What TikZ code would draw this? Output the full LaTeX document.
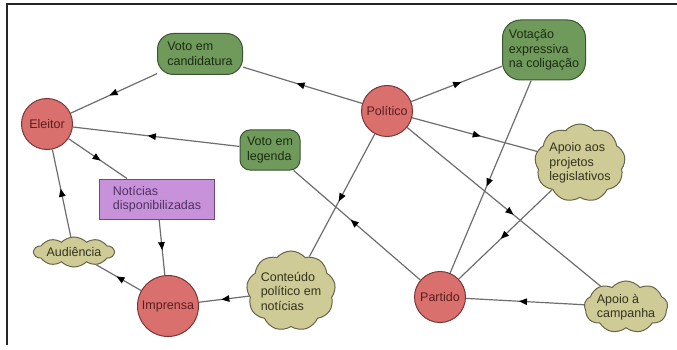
\documentclass[tikz,border=0pt]{standalone}
\usepackage{fontspec}
\setmainfont{Liberation Sans}
\usetikzlibrary{shapes.symbols,decorations.markings,arrows.meta}
\definecolor{redfill}{HTML}{D9706E}
\definecolor{reddraw}{HTML}{7A3535}
\definecolor{redtext}{HTML}{5A1E1E}
\definecolor{greenfill}{HTML}{6F9A5B}
\definecolor{greendraw}{HTML}{3A5530}
\definecolor{greentext}{HTML}{1C2C12}
\definecolor{cloudfill}{HTML}{CFCB96}
\definecolor{clouddraw}{HTML}{66654A}
\definecolor{cloudtext}{HTML}{33331F}
\definecolor{purplefill}{HTML}{C792DA}
\definecolor{purpledraw}{HTML}{6B4A80}
\definecolor{purpletext}{HTML}{4E3264}
\definecolor{linecol}{HTML}{6E6E6E}
\begin{document}
\begin{tikzpicture}[x=1pt,y=-1pt,
  font=\fontsize{12.5}{14.5}\selectfont,
  actor/.style={circle, draw=reddraw, fill=redfill, text=redtext, line width=1pt, inner sep=0pt, minimum size=51pt},
  greenbox/.style={rectangle, draw=greendraw, fill=greenfill, text=greentext, line width=1pt, align=left, inner sep=2pt},
  cloudbox/.style={cloud, cloud puffs=9, cloud puff arc=100, cloud ignores aspect, draw=clouddraw, fill=cloudfill, text=cloudtext, line width=1pt, align=left, inner sep=0pt},
  purplebox/.style={rectangle, draw=purpledraw, fill=purplefill, text=purpletext, line width=1pt, align=left, inner sep=2pt},
  link/.style={draw=linecol, line width=1.2pt, postaction={decorate},
    decoration={markings, mark=at position 0.55 with {\arrow[black]{Triangle[length=8pt,width=6.5pt]}}}}
]
\useasboundingbox (0,0) rectangle (677,350);
\fill[white] (0,0) rectangle (677,350);
\draw[line width=2pt, black!85] (7,345) -- (7,4) -- (677,4);

% nodes
\node[actor] (eleitor) at (47,124) {Eleitor};
\node[actor] (politico) at (387,111) {Político};
\node[actor, minimum size=61pt] (imprensa) at (168,306) {Imprensa};
\node[actor] (partido) at (440,297) {Partido};

\node[greenbox, rounded corners=16pt, minimum width=85pt, minimum height=41pt] (vcand) at (200,54) {Voto em\\candidatura};
\node[greenbox, rounded corners=10pt, minimum width=60pt, minimum height=40pt] (vleg) at (270,150) {Voto em\\legenda};
\node[greenbox, rounded corners=18pt, minimum width=83pt, minimum height=60pt] (votacao) at (544,50) {Votação\\expressiva\\na coligação};

\node[cloudbox, minimum width=88pt, minimum height=78pt] (projetos) at (580,163) {Apoio aos\\projetos\\legislativos};
\node[cloudbox, minimum width=80pt, minimum height=52pt] (campanha) at (626,307) {Apoio à\\campanha};
\node[cloudbox, cloud puffs=10, cloud puff arc=90, minimum width=80pt, minimum height=30pt] (audiencia) at (74,252) {Audiência};
\node[cloudbox, minimum width=88pt, minimum height=80pt] (conteudo) at (291,291) {Conteúdo\\político em\\notícias};

\node[purplebox, minimum width=115pt, minimum height=40pt] (noticias) at (157,199) {Notícias\\disponibilizadas};

% connectors
\draw[link] (vcand) -- (eleitor);
\draw[link] (politico) -- (vcand);
\draw[link] (vleg) -- (eleitor);
\draw[link] (eleitor) -- (noticias);
\draw[link] (audiencia) -- (eleitor);
\draw[link] (noticias) -- (imprensa);
\draw[link] (imprensa) -- (audiencia);
\draw[link] (conteudo) -- (imprensa);
\draw[link] (politico) -- (conteudo);
\draw[link] (partido) -- (vleg);
\draw[link] (politico) -- (votacao);
\draw[link] (votacao) -- (partido);
\draw[link] (politico) -- (projetos);
\draw[link] (projetos) -- (partido);
\draw[link] (politico) -- (campanha);
\draw[link] (campanha) -- (partido);
\end{tikzpicture}
\end{document}
